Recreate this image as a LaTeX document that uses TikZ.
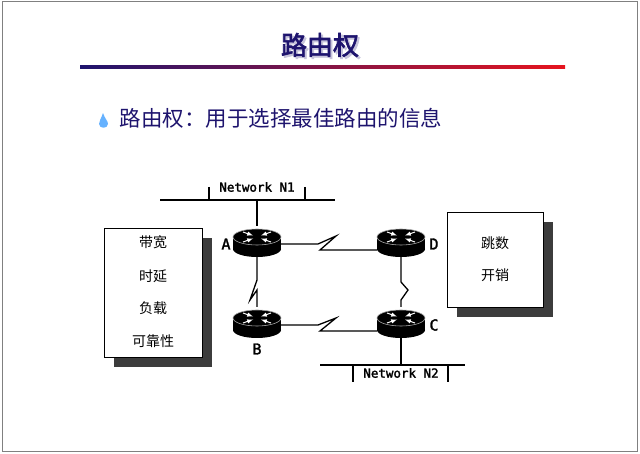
\documentclass[tikz,border=0pt]{standalone}
\usepackage{fontspec}
\setmainfont{Liberation Serif}
\newfontfamily\cjk[AutoFakeBold=2.5]{Noto Sans CJK SC}
\newfontfamily\mono[AutoFakeBold=2]{DejaVu Sans Mono}
\usetikzlibrary{calc}
\definecolor{navy}{RGB}{30,20,110}
\definecolor{titlered}{RGB}{230,20,30}
\definecolor{boxshade}{RGB}{60,60,60}

\tikzset{
  rtr/.style={minimum width=48pt, minimum height=30pt, inner sep=0pt},
  lbl/.style={font=\mono\bfseries\fontsize{12.5}{12.5}\selectfont},
  tag/.style={font=\mono\bfseries\fontsize{15}{15}\selectfont},
  cell/.style={font=\cjk\fontsize{14}{14}\selectfont},
  link/.style={line width=1.3pt},
}
\newcommand\router[1]{%
  \fill[black] ($(#1)+(-24,-4)$) rectangle ($(#1)+(24,8)$);
  \fill[black] ($(#1)+(0,8)$) ellipse [x radius=24, y radius=8];
  \filldraw[fill=black, draw=gray!70, line width=0.6pt] ($(#1)+(0,-4)$) ellipse [x radius=24, y radius=8];
  \foreach \dx/\dy in {-1/-1, 1/-1, -1/1, 1/1}
    \draw[white, line width=1pt, -latex] ($(#1)+(14*\dx,-4+5*\dy)$) -- ($(#1)+(4*\dx,-4+1.5*\dy)$);
}

\begin{document}
\begin{tikzpicture}[x=1pt, y=-1pt]
  \useasboundingbox (0,0) rectangle (640,454);
  \draw[gray, line width=1pt] (2,2) rectangle (637,451);

  % title
  \node[font=\cjk\bfseries\fontsize{26}{26}\selectfont, text=navy!25] (titleshade) at (322,47) {路由权};
  \node[font=\cjk\bfseries\fontsize{26}{26}\selectfont, text=navy] (title) at (320,45) {路由权};
  \shade[left color=navy, right color=titlered] (80,66) rectangle (565,69);

  % bullet
  \fill[blue!50!cyan!60] (103,113) .. controls (101,119) and (99,121) .. (99,124) .. controls (99,129) and (108,129) .. (108,124) .. controls (108,121) and (105,119) .. (103,113);
  \node[font=\cjk\fontsize{21.5}{21.5}\selectfont, text=navy, anchor=west] (lead) at (116,118) {路由权：用于选择最佳路由的信息};

  % networks
  \draw[link] (160,200) -- (335,200);
  \draw[link] (209,187) -- (209,200);
  \draw[link] (305,187) -- (305,200);
  \node[lbl] (n1) at (257,187) {Network N1};
  \draw[link] (320,365) -- (465,365);
  \draw[link] (353,365) -- (353,382);
  \draw[link] (448,365) -- (448,382);
  \node[lbl] (n2) at (401,373) {Network N2};

  % routers
  \node[rtr] (A) at (257,241) {};
  \node[rtr] (D) at (401,241) {};
  \node[rtr] (B) at (257,322) {};
  \node[rtr] (C) at (401,322) {};

  \draw[link] (257,200) -- (A.north);
  \draw[link] (C.south) -- (401,365);
  \draw[link] (A.east) ++(0,3) -- (318,244) -- (336,236) -- (320,250) -- ($(D.west)+(0,9)$);
  \draw[link] (B.east) ++(0,3) -- (318,325) -- (336,318) -- (320,331) -- ($(C.west)+(0,9)$);
  \draw[link] (A.south) -- (257,280) -- (250,300) -- (257,290) -- (257,307);
  \draw[link] (D.south) -- (401,282) -- (408,290) -- (401,300) -- (401,307);

  \router{A} \router{D} \router{B} \router{C}
  \node[tag] (la) at (226,244) {A};
  \node[tag] (ld) at (434,244) {D};
  \node[tag] (lc) at (434,325) {C};
  \node[tag] (lb) at (257,349) {B};

  % metric boxes
  \fill[boxshade] (114,238) rectangle (212,367);
  \filldraw[fill=white, draw=black, line width=0.6pt] (104,228) rectangle (202,357);
  \node[cell] (bw) at (153,242) {带宽};
  \node[cell] (dl) at (153,276) {时延};
  \node[cell] (ld2) at (153,308) {负载};
  \node[cell] (rl) at (153,341) {可靠性};
  \fill[boxshade] (457,222) rectangle (553,317);
  \filldraw[fill=white, draw=black, line width=0.6pt] (447,212) rectangle (543,307);
  \node[cell] (hop) at (495,243) {跳数};
  \node[cell] (cost) at (495,275) {开销};
\end{tikzpicture}
\end{document}
